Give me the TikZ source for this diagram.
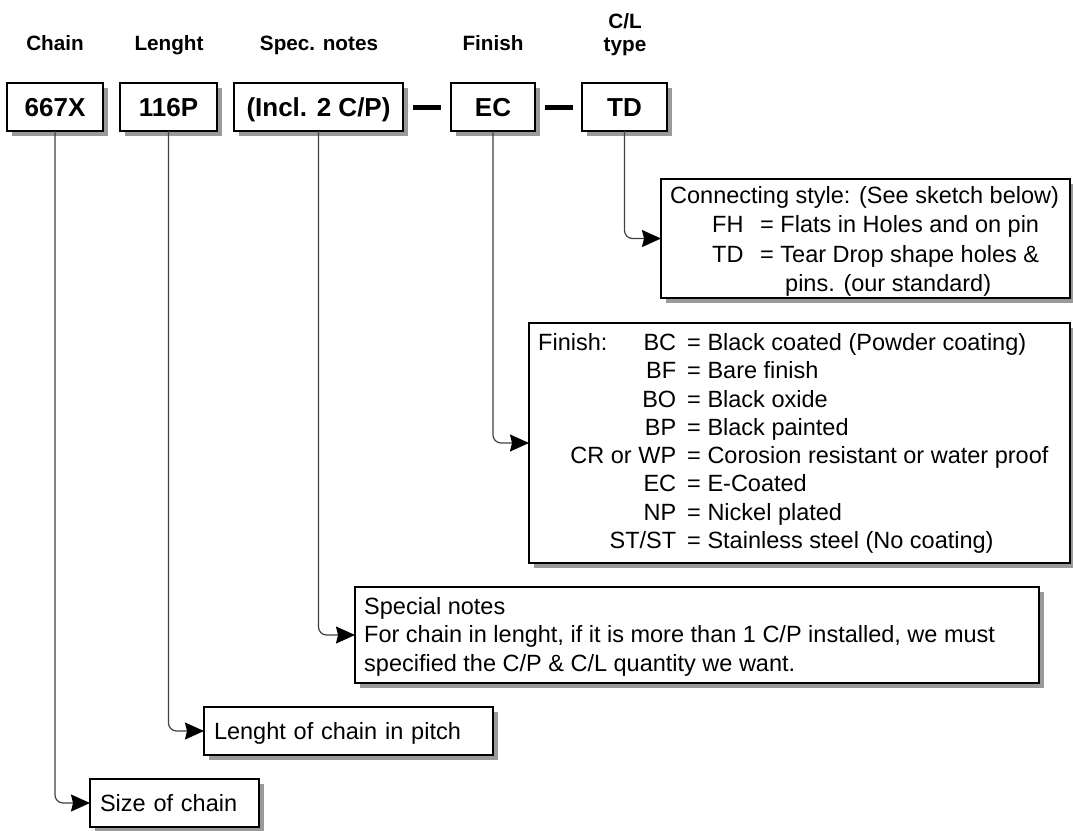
\documentclass[tikz,border=0pt]{standalone}
\usepackage{fontspec}
\setmainfont{Liberation Sans}
\usetikzlibrary{shadows,arrows.meta,calc}
\definecolor{shadowgray}{HTML}{9A9A9A}
\definecolor{connc}{HTML}{404040}
\tikzset{
  sh/.style={drop shadow={shadow xshift=5pt, shadow yshift=-5pt, fill=shadowgray, opacity=1}},
  box/.style={draw=black, line width=1.6pt, fill=white, sh, inner sep=0pt, outer sep=0pt},
  codebox/.style={box, minimum height=48pt, text height=18.6pt, text depth=0pt, font=\fontsize{26}{30}\selectfont\bfseries},
  head/.style={font=\fontsize{20.7}{23}\selectfont\bfseries, inner sep=0pt, anchor=base},
  body/.style={font=\fontsize{23.5}{28.3}\selectfont, inner sep=0pt},
  linebox/.style={box, minimum height=48pt, align=left, inner xsep=10pt, text height=16.8pt, text depth=0pt, font=\fontsize{23.5}{28.3}\selectfont},
  conn/.style={draw=connc, line width=1.2pt, rounded corners=8pt,
    -{Stealth[length=19pt,width=17pt,inset=2pt,color=black]}},
  sepbar/.style={line width=5pt}
}
\begin{document}
\begin{tikzpicture}[x=1pt,y=-1pt]
\useasboundingbox (0,0) rectangle (1073,830);

% headers
\node[head] (hchain) at (55,50.4) {Chain};
\node[head] (hlen) at (169,50.4) {Lenght};
\node[head] (hspec) at (319,50.4) {Spec. notes};
\node[head] (hfin) at (493,50.4) {Finish};
\node[head] (hcl) at (625,51) {\begin{tabular}[b]{@{}c@{}}C/L\\type\end{tabular}};

% code boxes
\node[codebox, minimum width=96pt] (x667) at (55,107) {667X};
\node[codebox, minimum width=97pt] (p116) at (168.5,107) {116P};
\node[codebox, minimum width=169pt] (incl) at (318.5,107) {(Incl. 2 C/P)};
\node[codebox, minimum width=84pt] (ec) at (493,107) {EC};
\node[codebox, minimum width=85pt] (td) at (624.5,107) {TD};

\draw[sepbar] ($(incl.east)+(10,0)$) -- ($(ec.west)+(-10,0)$);
\draw[sepbar] ($(ec.east)+(10,0)$) -- ($(td.west)+(-9,0)$);

% description boxes
\node[box, anchor=north west, minimum width=409pt, minimum height=119pt] (connbox) at (661,179) {};
\node[body, anchor=base west, font=\fontsize{23.5}{29.3}\selectfont] (conntxt) at (670,203.4) {\begin{tabular}[t]{@{}l@{}}Connecting style: (See sketch below)\\
\hspace*{42pt}\makebox[48pt][l]{FH}= Flats in Holes and on pin\\
\hspace*{42pt}\makebox[48pt][l]{TD}= Tear Drop shape holes \&\\
\hspace*{115pt}pins. (our standard)\end{tabular}};

\node[box, anchor=north west, minimum width=541pt, minimum height=240pt] (finbox) at (529,323) {};
\node[body, anchor=base west] (fintxt) at (538,350.4) {\begin{tabular}[t]{@{}r@{\hspace{11pt}=\hspace{6.6pt}}l@{}}
\rlap{Finish:}\makebox[138pt][r]{BC} & Black coated (Powder coating)\\
BF & Bare finish\\
BO & Black oxide\\
BP & Black painted\\
CR or WP & Corosion resistant or water proof\\
EC & E-Coated\\
NP & Nickel plated\\
ST/ST & Stainless steel (No coating)\end{tabular}};

\node[box, anchor=north west, minimum width=684pt, minimum height=96pt] (specbox) at (355,587) {};
\node[body, anchor=base west] (spectxt) at (364,614.4) {\begin{tabular}[t]{@{}l@{}}Special notes\\
For chain in lenght, if it is more than 1 C/P installed, we must\\
specified the C/P \& C/L quantity we want.\end{tabular}};

\node[linebox, anchor=north west, text width=269pt] (lenbox) at (204,707) {Lenght of chain in pitch};
\node[linebox, anchor=north west, text width=149pt] (sizebox) at (90,779) {Size of chain};

% connectors
\draw[conn] (td.south) |- (connbox.west);
\draw[conn] (ec.south) |- (finbox.west);
\draw[conn] (incl.south) |- (specbox.west);
\draw[conn] (p116.south) |- (lenbox.west);
\draw[conn] (x667.south) |- (sizebox.west);
\end{tikzpicture}
\end{document}
